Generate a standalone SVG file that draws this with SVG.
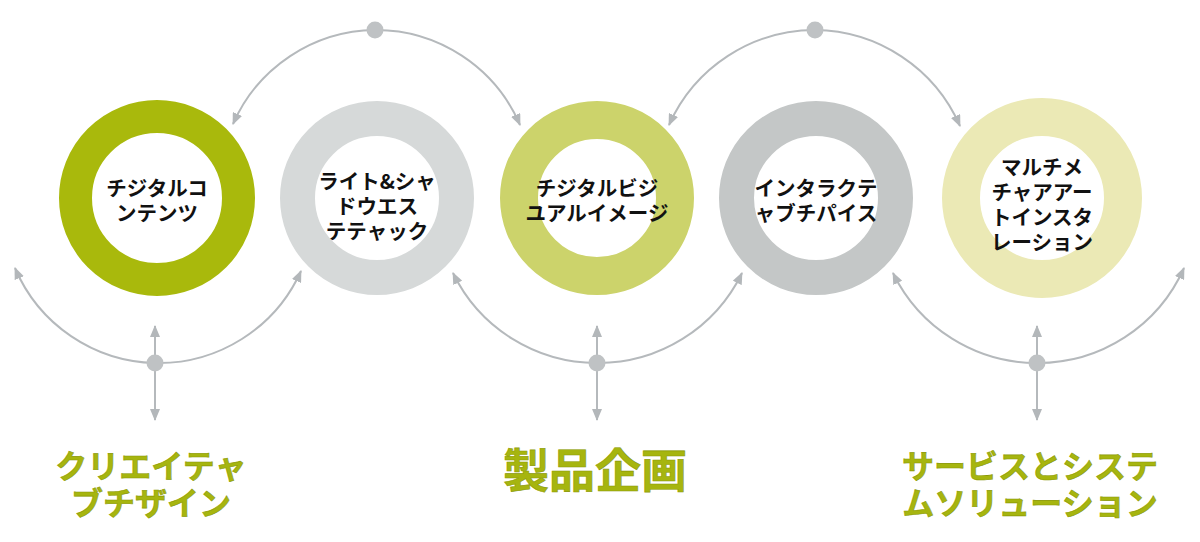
<svg xmlns="http://www.w3.org/2000/svg" width="1200" height="542" viewBox="0 0 1200 542">
<defs>
<marker id="ah" viewBox="0 0 12 10" refX="11" refY="5" markerWidth="12" markerHeight="10" markerUnits="userSpaceOnUse" orient="auto-start-reverse">
<path d="M0,0 L12,5 L0,10 z" fill="#b3b7ba"/>
</marker>
<style>
.ring{fill:none}
.lbl{font-family:"Noto Sans CJK JP","Noto Sans",sans-serif;font-size:20.5px;font-weight:600;fill:#111;text-anchor:middle}
.cat{font-family:"Noto Sans CJK JP","Noto Sans",sans-serif;font-weight:700;fill:#a6b50f;stroke:#8c9a05;stroke-width:0.6;text-anchor:middle}
.con{fill:none;stroke:#b5b9bc;stroke-width:2}
.dot{fill:#bfc2c4}
</style>
</defs>
<rect width="1200" height="542" fill="#ffffff"/>

<g id="connectors">
<path class="con" d="M375,30 A157,157 0 0,0 233,124" marker-end="url(#ah)"/>
<path class="con" d="M375,30 A157,157 0 0,1 520,125" marker-end="url(#ah)"/>
<path class="con" d="M815,30 A160,160 0 0,0 669,125" marker-end="url(#ah)"/>
<path class="con" d="M815,30 A160,160 0 0,1 960,126" marker-end="url(#ah)"/>
<path class="con" d="M155,363 A156,156 0 0,1 15,268" marker-end="url(#ah)"/>
<path class="con" d="M155,363 A156,156 0 0,0 301,271" marker-end="url(#ah)"/>
<path class="con" d="M597,363 A160,160 0 0,1 453,273" marker-end="url(#ah)"/>
<path class="con" d="M597,363 A160,160 0 0,0 742,273" marker-end="url(#ah)"/>
<path class="con" d="M1037,363 A160,160 0 0,1 893,273" marker-end="url(#ah)"/>
<path class="con" d="M1037,363 A160,160 0 0,0 1184,268" marker-end="url(#ah)"/>
<line class="con" x1="155" y1="326" x2="155" y2="420" marker-start="url(#ah)" marker-end="url(#ah)"/>
<line class="con" x1="597" y1="326" x2="597" y2="420" marker-start="url(#ah)" marker-end="url(#ah)"/>
<line class="con" x1="1037" y1="326" x2="1037" y2="420" marker-start="url(#ah)" marker-end="url(#ah)"/>
<circle class="dot" cx="375" cy="30" r="8.5"/>
<circle class="dot" cx="815" cy="30" r="8.5"/>
<circle class="dot" cx="155" cy="363" r="8.5"/>
<circle class="dot" cx="597" cy="363" r="8.5"/>
<circle class="dot" cx="1037" cy="363" r="8.5"/>
</g>

<g id="node1">
<circle class="ring" cx="157" cy="198" r="81.5" stroke="#a9b90c" stroke-width="33"/>
<text class="lbl" x="157" y="196">チジタルコ</text>
<text class="lbl" x="157" y="221">ンテンツ</text>
</g>
<g id="node2">
<circle class="ring" cx="377" cy="198" r="79.5" stroke="#d6d9d9" stroke-width="35"/>
<text class="lbl" x="377" y="189">ライト&amp;シャ</text>
<text class="lbl" x="377" y="214">ドウエス</text>
<text class="lbl" x="377" y="239">テテャック</text>
</g>
<g id="node3">
<circle class="ring" cx="597" cy="198" r="78" stroke="#ccd36b" stroke-width="38"/>
<text class="lbl" x="597" y="196">チジタルビジ</text>
<text class="lbl" x="597" y="221">ユアルイメージ</text>
</g>
<g id="node4">
<circle class="ring" cx="816" cy="198" r="79.5" stroke="#c4c7c7" stroke-width="35"/>
<text class="lbl" x="816" y="196">インタラクテ</text>
<text class="lbl" x="816" y="221">ャブチパイス</text>
</g>
<g id="node5">
<circle class="ring" cx="1042" cy="198" r="81" stroke="#ebe9b5" stroke-width="38"/>
<text class="lbl" x="1042" y="175">マルチメ</text>
<text class="lbl" x="1042" y="200">チャアアー</text>
<text class="lbl" x="1042" y="225">トインスタ</text>
<text class="lbl" x="1042" y="250">レーション</text>
</g>

<g id="cat1">
<text class="cat" x="151" y="478" font-size="32">クリエイテャ</text>
<text class="cat" x="151" y="515" font-size="32">ブチザイン</text>
</g>
<g id="cat2">
<text class="cat" x="595" y="487" font-size="46">製品企画</text>
</g>
<g id="cat3">
<text class="cat" x="1030" y="478" font-size="32">サービスとシステ</text>
<text class="cat" x="1030" y="515" font-size="32">ムソリューション</text>
</g>
</svg>
